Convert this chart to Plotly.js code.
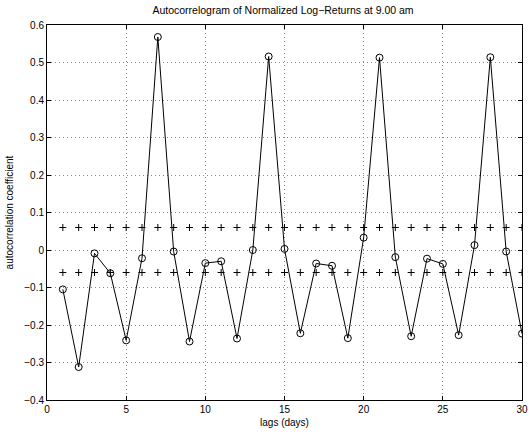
<!DOCTYPE html>
<html><head><meta charset="utf-8">
<script src="https://cdn.plot.ly/plotly-3.0.1.min.js"></script>
<style>html,body{margin:0;padding:0;background:#fff;}#plot{width:529px;height:437px;}</style>
</head><body><div id="plot"></div>
<script>
const lags = [1,2,3,4,5,6,7,8,9,10,11,12,13,14,15,16,17,18,19,20,21,22,23,24,25,26,27,28,29,30];
const acf = [-0.105,-0.312,-0.009,-0.062,-0.241,-0.022,0.568,-0.004,-0.244,-0.035,
             -0.030,-0.236,0.000,0.516,0.003,-0.222,-0.036,-0.042,-0.235,0.033,
             0.513,-0.019,-0.230,-0.023,-0.037,-0.227,0.013,0.514,-0.004,-0.223];
const upperBand = lags.map(() => 0.06);
const lowerBand = lags.map(() => -0.06);
const titleText = 'Autocorrelogram of Normalized Log\u2212Returns at 9.00 am';

const font = {family: 'Liberation Sans, Arial, Helvetica, sans-serif', size: 10, color: '#000'};
const traces = [
  {x: lags, y: acf, mode: 'lines+markers', line: {color: '#000', width: 1},
   marker: {symbol: 'circle-open', size: 7, color: '#000', line: {width: 1, color: '#000'}}},
  {x: lags, y: upperBand, mode: 'markers',
   marker: {symbol: 'cross-thin-open', size: 5, color: '#000', line: {width: 1, color: '#000'}}},
  {x: lags, y: lowerBand, mode: 'markers',
   marker: {symbol: 'cross-thin-open', size: 5, color: '#000', line: {width: 1, color: '#000'}}}
];
const axisCommon = {showline: true, linecolor: '#000', linewidth: 1, mirror: 'ticks',
  ticks: 'inside', ticklen: 4, tickcolor: '#000', showgrid: true, gridcolor: '#888',
  griddash: '1px,3px', gridwidth: 1, zeroline: false, tickfont: font};
const layout = {
  width: 529, height: 437, showlegend: false,
  paper_bgcolor: '#fff', plot_bgcolor: '#fff', font: font,
  margin: {l: 47, r: 7, t: 25, b: 37},
  title: {text: titleText, font: {family: font.family, size: 10.5, color: '#000'}, x: 0.535, xanchor: 'center', y: 0.985, yanchor: 'top'},
  xaxis: Object.assign({}, axisCommon, {range: [0, 30], dtick: 5, tick0: 0,
    title: {text: 'lags (days)', font: {family: font.family, size: 10, color: '#000'}, standoff: 4}}),
  yaxis: Object.assign({}, axisCommon, {range: [-0.4, 0.6], dtick: 0.1, tick0: 0,
    title: {text: 'autocorrelation coefficient', font: {family: font.family, size: 10, color: '#000'}, standoff: 8}})
};
Plotly.newPlot('plot', traces, layout, {displayModeBar: false, staticPlot: true});
</script></body></html>
